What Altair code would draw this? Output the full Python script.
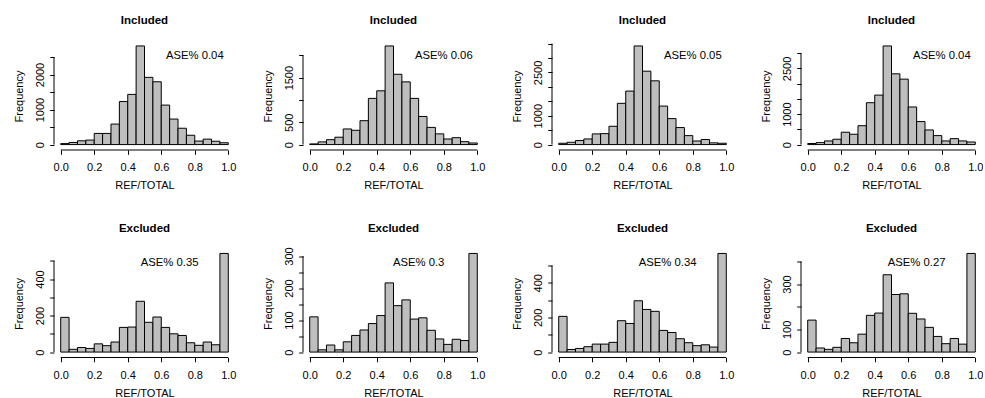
import altair as alt
import pandas as pd

# Histogram bins of REF/TOTAL (width 0.05 on [0, 1])
BIN_LO = [0.00, 0.05, 0.10, 0.15, 0.20, 0.25, 0.30, 0.35, 0.40, 0.45,
          0.50, 0.55, 0.60, 0.65, 0.70, 0.75, 0.80, 0.85, 0.90, 0.95]
BIN_HI = [0.05, 0.10, 0.15, 0.20, 0.25, 0.30, 0.35, 0.40, 0.45, 0.50,
          0.55, 0.60, 0.65, 0.70, 0.75, 0.80, 0.85, 0.90, 0.95, 1.00]

# Counts per bin, one list per sample
INC_1 = [28, 60, 108, 128, 318, 318, 585, 1228, 1432, 2815,
         1918, 1793, 1127, 728, 466, 266, 100, 156, 95, 52]
INC_2 = [15, 60, 110, 165, 350, 320, 535, 1035, 1205, 2210,
         1575, 1405, 1035, 630, 385, 240, 125, 155, 65, 35]
INC_3 = [45, 80, 140, 195, 370, 380, 635, 1430, 1855, 3420,
         2545, 2210, 1335, 900, 590, 310, 125, 175, 60, 45]
INC_4 = [35, 65, 120, 175, 405, 340, 620, 1375, 1625, 3240,
         2325, 2150, 1235, 755, 480, 295, 120, 195, 120, 85]
EXC_1 = [190, 15, 25, 20, 45, 35, 55, 135, 137, 278,
         163, 192, 135, 100, 91, 51, 37, 55, 40, 540]
EXC_2 = [110, 7, 22, 7, 32, 52, 69, 89, 114, 216,
         145, 163, 103, 107, 68, 41, 24, 40, 36, 308]
EXC_3 = [206, 15, 21, 31, 46, 46, 56, 181, 165, 296,
         246, 235, 125, 113, 77, 54, 37, 42, 29, 569]
EXC_4 = [141, 18, 12, 21, 60, 41, 79, 162, 172, 341,
         254, 257, 171, 146, 109, 69, 37, 60, 35, 435]

COUNTS = [INC_1, INC_2, INC_3, INC_4, EXC_1, EXC_2, EXC_3, EXC_4]
TITLES = ["Included"] * 4 + ["Excluded"] * 4
ASE = ["0.04", "0.06", "0.05", "0.04", "0.35", "0.3", "0.34", "0.27"]

# Y axis tick marks and which of them carry a label
Y_TICKS = [
    [0, 500, 1000, 1500, 2000, 2500],
    [0, 500, 1000, 1500, 2000],
    [0, 500, 1000, 1500, 2000, 2500, 3000, 3500],
    [0, 500, 1000, 1500, 2000, 2500, 3000],
    [0, 100, 200, 300, 400, 500],
    [0, 50, 100, 150, 200, 250, 300],
    [0, 100, 200, 300, 400, 500],
    [0, 100, 200, 300, 400],
]
Y_LABELED = [
    [0, 1000, 2000],
    [0, 500, 1500],
    [0, 1000, 2500],
    [0, 1000, 2500],
    [0, 200, 400],
    [0, 100, 200, 300],
    [0, 200, 400],
    [0, 100, 300],
]
X_TICKS = [0.0, 0.2, 0.4, 0.6, 0.8, 1.0]

# Layout / style
W, H = 181, 108
FONT = "Liberation Sans"
FILL = "#BEBEBE"
ANNOT_X = [0.8] * 4 + [0.65] * 4
ANNOT_YFRAC = 0.9
TITLE_RAISE = 17.7


def panel(i):
    counts = COUNTS[i]
    top = max(counts)
    df = pd.DataFrame({"lo": BIN_LO, "hi": BIN_HI, "n": counts})
    xs = alt.Scale(domain=[-0.04, 1.04], nice=False, zero=False)
    ys = alt.Scale(domain=[-0.055 * top, 1.04 * top], nice=False, zero=False)
    cond = " || ".join(f"datum.value == {v}" for v in Y_LABELED[i])
    label_expr = f"({cond}) ? datum.label : ''"

    # identical axis definitions in every layer so they merge cleanly
    x_axis = alt.Axis(
        values=X_TICKS, format=".1f", title="REF/TOTAL", domain=False,
        tickSize=4.3, labelPadding=7.5, titlePadding=7,
        labelOverlap=False, labelFlush=False, labelBound=False,
    )
    y_axis = alt.Axis(
        values=Y_TICKS[i], labelExpr=label_expr, format="d",
        title="Frequency", domain=False, tickSize=4.3, labelPadding=6.7,
        labelAngle=270, labelAlign="center", labelBaseline="alphabetic",
        titlePadding=10, labelOverlap=False, labelFlush=False,
        labelBound=False,
    )

    bars = alt.Chart(df).mark_bar(
        fill=FILL, stroke="black", strokeWidth=1
    ).encode(
        x=alt.X("lo:Q", scale=xs, axis=x_axis),
        x2="hi:Q",
        y=alt.Y("n:Q", scale=ys, axis=y_axis),
        y2=alt.datum(0),
    )

    one = pd.DataFrame({"k": [0]})
    # axis lines spanning first to last tick only
    x_line = alt.Chart(one).mark_rule(color="black", strokeWidth=1).encode(
        x=alt.X(datum=0.0, scale=xs, axis=x_axis),
        x2=alt.datum(1.0),
        y=alt.value(H),
    )
    y_line = alt.Chart(one).mark_rule(color="black", strokeWidth=1).encode(
        x=alt.value(0),
        y=alt.Y(datum=0, scale=ys, axis=y_axis),
        y2=alt.datum(Y_TICKS[i][-1]),
    )

    note = pd.DataFrame({"lo": [ANNOT_X[i]], "n": [ANNOT_YFRAC * top],
                         "t": [f"ASE% {ASE[i]}"]})
    text = alt.Chart(note).mark_text(
        font=FONT, fontSize=11.3, color="black", align="center", baseline="middle"
    ).encode(
        x=alt.X("lo:Q", scale=xs, axis=x_axis),
        y=alt.Y("n:Q", scale=ys, axis=y_axis),
        text="t:N",
    )

    heading = alt.Chart(one).mark_text(
        text=TITLES[i], font=FONT, fontSize=11.5, fontWeight="bold",
        color="black", align="center", baseline="alphabetic",
    ).encode(
        x=alt.value(W / 2),
        y=alt.value(-TITLE_RAISE),
    )

    return alt.layer(bars, x_line, y_line, text, heading).properties(
        width=W, height=H,
    )


chart = alt.concat(
    *[panel(i) for i in range(8)],
    columns=4,
    spacing={"row": 99.5, "column": 68},
    bounds="flush",
).properties(
    padding={"left": 13, "top": 15, "right": 0, "bottom": 0},
    background="white",
).configure_view(
    stroke=None
).configure_axis(
    grid=False,
    labelFont=FONT, titleFont=FONT,
    labelFontSize=11, titleFontSize=11,
    labelColor="black", titleColor="black",
    tickColor="black", tickWidth=1,
    titleFontWeight="normal",
)

chart.save("out.html", embed_options={"renderer": "svg", "actions": False})
